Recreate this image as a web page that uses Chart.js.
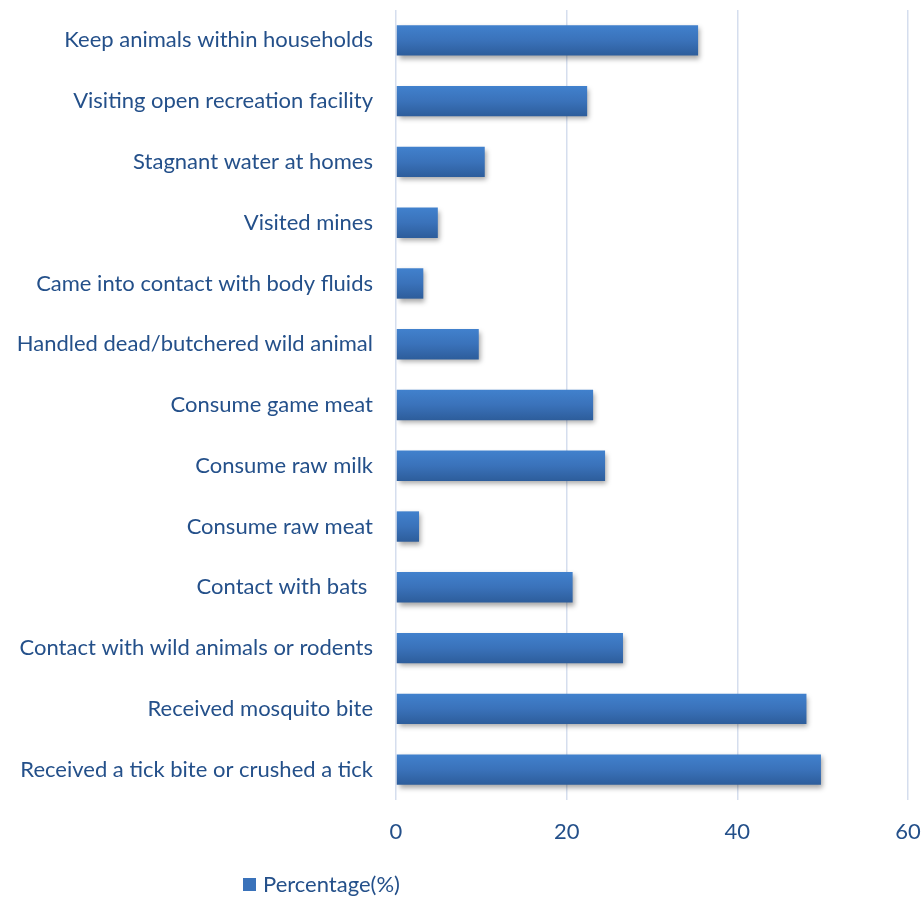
<!DOCTYPE html>
<html>
<head>
<meta charset="utf-8">
<script src="https://cdn.jsdelivr.net/npm/chart.js@4"></script>
<style>
  html, body { margin: 0; padding: 0; background: #fff; }
  #wrap { width: 922px; height: 897px; }
</style>
</head>
<body>
<div id="wrap"><canvas id="risk"></canvas></div>
<script>
const categories = [
  "Keep animals within households",
  "Visiting open recreation facility",
  "Stagnant water at homes",
  "Visited mines",
  "Came into contact with body fluids",
  "Handled dead/butchered wild animal",
  "Consume game meat",
  "Consume raw milk",
  "Consume raw meat",
  "Contact with bats ",
  "Contact with wild animals or rodents",
  "Received mosquito bite",
  "Received a tick bite or crushed a tick"
];
const percentage = [35.4, 22.4, 10.4, 4.9, 3.2, 9.7, 23.1, 24.5, 2.7, 20.7, 26.6, 48.1, 49.8];
const xTicks = [0, 20, 40, 60];

const textColor = "#24508a";
const fontFamily = "Lato, 'Open Sans', sans-serif";

// vertical gradient for each bar, placed with the y scale
function barFill(context) {
  const chart = context.chart;
  const y = chart.scales && chart.scales.y;
  if (!y || !chart.chartArea) return "#3a70b6";
  const c = y.getPixelForValue(context.dataIndex);
  const half = (y.height / categories.length) * 0.25;
  const g = chart.ctx.createLinearGradient(0, c - half, 0, c + half);
  g.addColorStop(0, "#4181cd");
  g.addColorStop(0.5, "#3a72ba");
  g.addColorStop(1, "#2d5d9b");
  return g;
}

const shadowPlugin = {
  id: "barShadow",
  beforeDatasetsDraw(chart) {
    const ctx = chart.ctx;
    ctx.save();
    ctx.shadowColor = "rgba(0,0,0,0.35)";
    ctx.shadowBlur = 5;
    ctx.shadowOffsetX = 2;
    ctx.shadowOffsetY = 3;
  },
  afterDatasetsDraw(chart) {
    chart.ctx.restore();
  }
};

const legendPlugin = {
  id: "sideLegend",
  afterDraw(chart) {
    const ctx = chart.ctx;
    ctx.save();
    ctx.fillStyle = "#3a72ba";
    ctx.fillRect(243, 878, 13, 13);
    ctx.fillStyle = textColor;
    ctx.font = "22px " + fontFamily;
    ctx.textBaseline = "middle";
    ctx.textAlign = "left";
    ctx.fillText(chart.data.datasets[0].label, 263, 885);
    ctx.restore();
  }
};

function noPad(scale) {
  scale.paddingTop = 0;
  scale.paddingBottom = 0;
  scale.paddingLeft = 0;
  scale.paddingRight = 0;
}

const ctx = document.getElementById("risk").getContext("2d");
const risk = new Chart(ctx, {
  type: "bar",
  data: {
    labels: categories,
    datasets: [
      {
        label: "Percentage(%)",
        data: percentage,
        backgroundColor: barFill,
        borderWidth: 0,
        barPercentage: 0.5,
        categoryPercentage: 1,
      },
    ],
  },
  options: {
    indexAxis: "y",
    responsive: true,
    maintainAspectRatio: false,
    animation: false,
    layout: { padding: { top: 10, right: 14, bottom: 47, left: 0 } },
    plugins: {
      legend: { display: false },
      tooltip: { enabled: false },
    },
    scales: {
      x: {
        min: 0,
        max: 60,
        afterBuildTicks(scale) {
          scale.ticks = xTicks.map(v => ({ value: v }));
        },
        afterFit(scale) { scale.height = 50; noPad(scale); },
        border: { display: false },
        grid: { color: "#d5deee", lineWidth: 1.5, drawTicks: false },
        ticks: { color: textColor, padding: 19, font: { family: fontFamily, size: 22 } },
      },
      y: {
        afterFit(scale) { scale.width = 396; noPad(scale); },
        border: { display: false },
        grid: { display: false, drawTicks: false },
        ticks: { color: textColor, padding: 23, font: { family: fontFamily, size: 22 } },
      },
    },
  },
  plugins: [shadowPlugin, legendPlugin],
});
</script>
</body>
</html>
